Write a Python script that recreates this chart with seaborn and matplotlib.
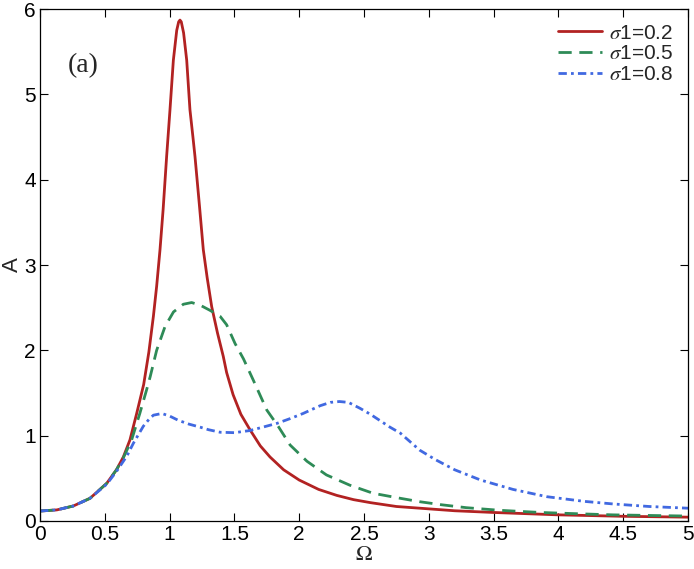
import numpy as np
import pandas as pd
import matplotlib
matplotlib.use("Agg")
import matplotlib.pyplot as plt
import seaborn as sns

# ---- data ----
omega_02 = [0, 0.13, 0.257, 0.386, 0.514, 0.59, 0.643, 0.694, 0.746, 0.80, 0.84, 0.875,
            0.9, 0.926, 0.95, 0.977, 1.003, 1.029, 1.055, 1.07, 1.08, 1.09, 1.108, 1.132,
            1.157, 1.18, 1.196, 1.23, 1.26, 1.29, 1.325, 1.37, 1.414, 1.44, 1.49, 1.55,
            1.62, 1.7, 1.775, 1.88, 2.0, 2.15, 2.29, 2.42, 2.55, 2.75, 2.93, 3.2, 3.5,
            4.0, 4.5, 5.0]
amp_02 = [0.117, 0.13, 0.176, 0.266, 0.44, 0.60, 0.75, 0.95, 1.26, 1.6, 1.98, 2.4,
          2.75, 3.18, 3.65, 4.27, 4.82, 5.40, 5.75, 5.85, 5.87, 5.85, 5.72, 5.40,
          4.82, 4.5, 4.27, 3.7, 3.18, 2.85, 2.51, 2.2, 1.93, 1.74, 1.48, 1.25,
          1.07, 0.88, 0.75, 0.6, 0.48, 0.37, 0.30, 0.25, 0.215, 0.17, 0.15, 0.12, 0.1,
          0.072, 0.055, 0.045]

omega_05 = [0, 0.13, 0.257, 0.386, 0.514, 0.59, 0.643, 0.707, 0.77, 0.823, 0.85, 0.9,
            0.965, 1.03, 1.106, 1.17, 1.235, 1.31, 1.389, 1.44, 1.505, 1.57, 1.646, 1.75,
            1.84, 1.93, 2.06, 2.21, 2.39, 2.57, 2.78, 2.93, 3.1, 3.29, 3.55, 3.86, 4.15,
            4.42, 4.7, 5.0]
amp_05 = [0.117, 0.13, 0.176, 0.266, 0.44, 0.60, 0.74, 0.95, 1.26, 1.54, 1.69, 2.0,
          2.28, 2.45, 2.54, 2.56, 2.53, 2.47, 2.40, 2.3, 2.08, 1.90, 1.65, 1.30,
          1.105, 0.89, 0.70, 0.54, 0.42, 0.325, 0.266, 0.226, 0.19, 0.156, 0.125, 0.1, 0.085,
          0.072, 0.065, 0.058]

omega_08 = [0, 0.13, 0.257, 0.386, 0.514, 0.59, 0.643, 0.67, 0.72, 0.77, 0.797, 0.84,
            0.875, 0.94, 1.0, 1.067, 1.15, 1.235, 1.3, 1.39, 1.5, 1.62, 1.72, 1.83, 1.93,
            2.03, 2.16, 2.24, 2.31, 2.38, 2.47, 2.55, 2.62, 2.7, 2.78, 2.93, 3.05, 3.2,
            3.4, 3.65, 3.91, 4.2, 4.42, 4.7, 5.0]
amp_08 = [0.117, 0.13, 0.176, 0.266, 0.43, 0.58, 0.70, 0.76, 0.91, 1.04, 1.11, 1.19,
          1.24, 1.26, 1.23, 1.18, 1.135, 1.10, 1.07, 1.04, 1.035, 1.06, 1.1, 1.145, 1.2,
          1.26, 1.35, 1.39, 1.40, 1.39, 1.32, 1.25, 1.18, 1.1, 1.03, 0.83, 0.72, 0.6,
          0.48, 0.37, 0.285, 0.23, 0.2, 0.17, 0.15]

labels = [r"$\sigma$1=0.2", r"$\sigma$1=0.5", r"$\sigma$1=0.8"]
x_ticks = [0, 0.5, 1, 1.5, 2, 2.5, 3, 3.5, 4, 4.5, 5]
x_ticklabels = ["0", "0.5", "1", "1.5", "2", "2.5", "3", "3.5", "4", "4.5", "5"]
y_ticks = [0, 1, 2, 3, 4, 5, 6]

sns.set_style("ticks")
plt.rcParams["font.family"] = ["Liberation Sans", "DejaVu Sans"]
plt.rcParams["mathtext.fontset"] = "stix"
plt.rcParams["lines.scale_dashes"] = False

fig = plt.figure(figsize=(6.94, 5.69), dpi=100)
ax = fig.add_axes([40 / 694, 1 - 521 / 569, 648 / 694, 512 / 569])

series = [
    (omega_02, amp_02, labels[0], "#b22222", "-"),
    (omega_05, amp_05, labels[1], "#2e8b57", (0, (9.5, 5.5))),
    (omega_08, amp_08, labels[2], "#4169e1", (0, (6, 3, 2, 3))),
]
for om, am, lab, col, ls in series:
    df = pd.DataFrame({"Omega": om, "A": am})
    sns.lineplot(data=df, x="Omega", y="A", ax=ax, color=col, linewidth=2.0,
                 linestyle=ls, label=lab, sort=False)

ax.set_xlim(0, 5)
ax.set_ylim(0, 6)
ax.set_xticks(x_ticks)
ax.set_xticklabels(x_ticklabels)
ax.set_yticks(y_ticks)
ax.tick_params(direction="in", length=6, width=0.8, labelsize=15, top=True, right=True,
               pad=3, colors="black")
for s in ax.spines.values():
    s.set_linewidth(0.9)
    s.set_color("black")
    s.set_visible(True)

ax.set_xlabel(r"$\Omega$", fontsize=16, labelpad=0)
ax.set_ylabel("A", fontsize=16, labelpad=1)

ax.text(0.043, 0.89, "(a)", transform=ax.transAxes, fontsize=20,
        family=["Liberation Serif", "DejaVu Serif"], va="center", ha="left")

leg = ax.legend(loc="upper right", frameon=False, fontsize=15, handlelength=2.1,
                handletextpad=0.35, labelspacing=0.08, borderaxespad=0.3)

fig.savefig("out.png", dpi=100)
